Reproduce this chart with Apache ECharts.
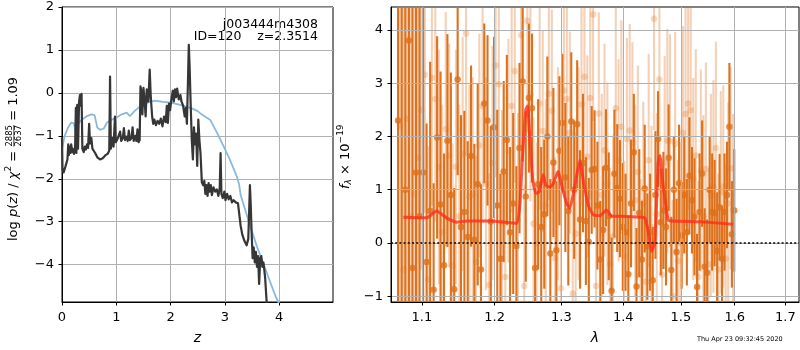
<!DOCTYPE html>
<html>
<head>
<meta charset="utf-8">
<script src="https://cdn.jsdelivr.net/npm/echarts@6/dist/echarts.min.js"></script>
<style>
  html, body { margin: 0; padding: 0; background: #fff; }
  #chart { width: 800px; height: 350px; }
</style>
</head>
<body>
<div id="chart"></div>
<script>
// ---- redshift probability, log p(z) ----
const zGrid = [0.000,0.010,0.030,0.060,0.080,0.100,0.115,0.125,0.140,0.155,0.170,0.185,0.200,0.220,0.240,0.255,0.265,0.280,0.295,0.315,0.330,0.345,0.360,0.375,0.400,0.420,0.440,0.460,0.480,0.500,0.515,0.540,0.560,0.585,0.610,0.650,0.700,0.750,0.800,0.840,0.870,0.885,0.900,0.930,0.950,0.975,0.990,1.020,1.050,1.070,1.090,1.120,1.140,1.160,1.190,1.210,1.230,1.250,1.280,1.300,1.320,1.350,1.370,1.390,1.410,1.430,1.445,1.460,1.480,1.500,1.520,1.540,1.560,1.590,1.615,1.635,1.660,1.680,1.700,1.730,1.760,1.790,1.820,1.850,1.880,1.910,1.930,1.950,1.970,1.990,2.010,2.040,2.060,2.080,2.100,2.120,2.150,2.180,2.200,2.230,2.260,2.280,2.300,2.320,2.335,2.350,2.370,2.390,2.410,2.430,2.450,2.470,2.490,2.510,2.530,2.550,2.575,2.600,2.620,2.640,2.660,2.680,2.700,2.720,2.740,2.760,2.790,2.820,2.850,2.880,2.905,2.920,2.935,2.960,2.990,3.010,3.040,3.070,3.100,3.130,3.160,3.200,3.240,3.270,3.290,3.320,3.360,3.400,3.430,3.445,3.460,3.475,3.490,3.510,3.530,3.550,3.570,3.590,3.610,3.630,3.650,3.670,3.690,3.710,3.740,3.770,3.800];
const logPz = [-1.04,-1.80,-1.85,-1.73,-1.70,-1.55,-1.20,-1.45,-1.25,-1.40,-1.20,-1.38,-1.30,-1.42,-1.35,-0.35,-1.40,-0.28,-1.30,-0.20,-0.05,-0.30,-0.02,-1.30,-1.38,-1.25,-1.32,-1.20,-1.28,-0.72,-1.18,-1.05,-1.30,-1.28,-1.40,-1.50,-1.55,-1.52,-1.45,-1.42,-1.35,0.38,-1.30,-1.05,-1.25,-0.55,-1.15,-1.08,-1.12,-0.90,-1.12,-1.05,-0.82,-1.10,-1.02,-1.12,-0.88,-1.10,-1.05,-0.80,-1.12,-1.00,-1.12,-0.85,-1.15,-1.10,0.15,0.05,-0.50,0.12,-0.15,-0.55,0.08,-0.20,0.54,-0.10,-0.55,-0.72,-0.62,-0.75,-0.65,-0.72,-0.60,-0.78,-0.55,-0.68,-0.30,-0.70,-0.25,-0.40,-0.20,0.05,-0.20,0.08,-0.10,0.10,-0.15,-0.05,-0.20,-0.30,-0.55,-0.35,-0.72,0.30,1.12,0.60,-0.30,-1.10,-1.55,-0.80,-1.20,-0.95,-1.70,-0.62,-1.10,-1.40,-2.08,-2.15,-2.05,-2.35,-2.15,-2.40,-2.10,-2.30,-2.15,-2.38,-2.20,-2.30,-2.25,-2.40,-2.20,-1.40,-2.35,-2.45,-2.30,-2.50,-2.35,-2.48,-2.40,-2.55,-2.50,-2.55,-2.57,-2.60,-3.10,-3.30,-3.45,-3.55,-3.40,-2.80,-2.15,-2.60,-3.20,-3.85,-3.60,-3.95,-3.70,-4.05,-3.80,-4.45,-3.85,-3.80,-4.05,-3.95,-4.30,-4.90,-5.20];

// prior curve
const zPrior = [0.006,0.05,0.11,0.17,0.22,0.25,0.30,0.36,0.46,0.54,0.60,0.65,0.70,0.77,0.83,0.91,1.00,1.10,1.19,1.25,1.34,1.46,1.59,1.71,1.86,2.02,2.14,2.26,2.39,2.49,2.57,2.73,2.85,2.97,3.10,3.21,3.26,3.29,3.37,3.46,3.59,3.77,3.93,4.02];
const logPrior = [-1.27,-1.0,-0.81,-0.69,-0.71,-0.91,-0.71,-0.63,-0.54,-0.5,-0.52,-0.81,-0.86,-0.83,-0.69,-0.63,-0.58,-0.5,-0.46,-0.54,-0.42,-0.29,-0.22,-0.18,-0.21,-0.23,-0.27,-0.31,-0.36,-0.42,-0.5,-0.63,-0.92,-1.23,-1.58,-1.92,-2.12,-2.38,-2.71,-3.08,-3.58,-4.19,-4.73,-4.96];

const zTicks = [0, 1, 2, 3, 4];
const pzTicks = [-4, -3, -2, -1, 0, 1, 2];

// ---- 1D spectrum, first orientation ----
const waveA = [1.0690,1.0737,1.0783,1.0830,1.0876,1.0923,1.0969,1.1016,1.1062,1.1109,1.1155,1.1202,1.1248,1.1295,1.1341,1.1388,1.1434,1.1481,1.1527,1.1574,1.1620,1.1667,1.1713,1.1760,1.1806,1.1853,1.1899,1.1946,1.1992,1.2039,1.2085,1.2132,1.2178,1.2225,1.2271,1.2318,1.2364,1.2411,1.2457,1.2504,1.2550,1.2597,1.2643,1.2690,1.2736,1.2783,1.2829,1.2876,1.2922,1.2969,1.3015,1.3062,1.3108,1.3155,1.3201,1.3248,1.3294,1.3341,1.3387,1.3434,1.3480,1.3527,1.3573,1.3620,1.3666,1.3713,1.3759,1.3806,1.3852,1.3899,1.3945,1.3992,1.4038,1.4085,1.4131,1.4178,1.4224,1.4271,1.4317,1.4364,1.4410,1.4457,1.4503,1.4550,1.4596,1.4643,1.4689,1.4736,1.4782,1.4829,1.4875,1.4922,1.4968,1.5015,1.5061,1.5108,1.5154,1.5201,1.5247,1.5294,1.5340,1.5387,1.5433,1.5480,1.5526,1.5573,1.5619,1.5666,1.5712,1.5759,1.5805,1.5852,1.5898,1.5945,1.5991];
const fluxA = [2.3,-2.0,1.0,3.8,-0.47,1.32,0.5,1.32,-0.36,0.6,-0.88,1.98,0.72,-0.42,1.92,0.9,-0.87,3.07,0.3,0.58,0.11,1.63,0.06,1.1,-0.5,2.62,2.3,0.4,2.17,0.7,-0.3,1.34,1.93,0.2,0.74,-0.06,1.78,3.03,0.87,2.72,2.53,-0.47,1.1,0.3,0.54,2.0,-0.2,1.51,-0.14,1.73,2.25,1.23,0.6,2.28,1.0,2.23,0.44,1.5,0.41,0.02,1.37,1.39,0.7,-0.31,0.24,1.41,0.5,-0.9,1.3,1.03,0.83,0.3,0.2,-0.59,0.74,1.7,-0.82,0.56,-0.31,1.02,-0.07,0.2,-0.7,0.9,1.95,0.39,0.61,0.3,1.6,-0.51,1.0,-0.17,1.12,0.14,0.9,0.2,1.26,0.8,0.49,-0.83,0.58,1.3,-0.45,-0.56,1.0,0.58,0.56,-0.15,0.67,-0.3,0.58,0.9,2.18,0.16,0.61];
const errA = [9,8,7,6,6,5,5,4.5,2.6,2.8,2.0,1.9,2.5,2.1,2.0,2.3,1.9,1.8,2.1,1.9,1.8,1.7,1.8,1.9,1.6,1.5,1.6,1.8,1.7,1.8,1.6,1.7,1.6,1.6,1.7,1.5,1.6,1.5,1.6,1.4,1.4,1.5,1.6,1.5,1.4,1.5,1.4,1.4,1.3,1.4,1.3,1.4,1.4,1.3,1.3,1.2,1.3,1.3,1.2,1.2,1.2,1.1,1.2,1.1,1.2,1.1,1.2,1.0,1.2,1.2,1.1,1.2,1.1,1.1,1.2,1.1,1.1,1.2,1.1,1.2,1.0,1.1,1.0,1.2,0.9,1.0,1.1,1.1,1.0,1.0,1.0,1.0,1.1,1.0,1.1,1.0,1.1,1.0,1.1,1.0,1.1,1.0,1.1,1.0,1.0,1.1,1.0,1.1,1.0,1.0,1.1,1.0,1.2,1.0,1.15];

// ---- 1D spectrum, second orientation ----
const waveB = [1.0713,1.0760,1.0806,1.0853,1.0899,1.0946,1.0992,1.1039,1.1085,1.1132,1.1178,1.1225,1.1271,1.1318,1.1364,1.1411,1.1457,1.1504,1.1550,1.1597,1.1643,1.1690,1.1736,1.1783,1.1829,1.1876,1.1922,1.1969,1.2015,1.2062,1.2108,1.2155,1.2201,1.2248,1.2294,1.2341,1.2387,1.2434,1.2480,1.2527,1.2573,1.2620,1.2666,1.2713,1.2759,1.2806,1.2852,1.2899,1.2945,1.2992,1.3038,1.3085,1.3131,1.3178,1.3224,1.3271,1.3317,1.3364,1.3410,1.3457,1.3503,1.3550,1.3596,1.3643,1.3689,1.3736,1.3782,1.3829,1.3875,1.3922,1.3968,1.4015,1.4061,1.4108,1.4154,1.4201,1.4247,1.4294,1.4340,1.4387,1.4433,1.4480,1.4526,1.4573,1.4619,1.4666,1.4712,1.4759,1.4805,1.4852,1.4898,1.4945,1.4991,1.5038,1.5084,1.5131,1.5177,1.5224,1.5270,1.5317,1.5363,1.5410,1.5456,1.5503,1.5549,1.5596,1.5642,1.5689,1.5735,1.5782,1.5828,1.5875,1.5921,1.5968];
const fluxB = [2.2,-0.5,2.33,0.5,0.92,1.6,2.5,3.16,-0.69,3.1,2.7,1.42,0.2,2.14,1.64,-0.43,1.43,0.5,1.67,3.93,0.87,0.91,-0.36,1.83,2.57,1.11,-0.79,1.5,3.33,2.98,0.39,-0.64,1.73,2.57,3.23,0.44,3.9,-0.81,4.17,2.78,0.36,-0.01,2.62,2.1,0.7,2.8,2.48,-0.29,1.3,-0.85,2.86,2.7,2.07,-0.95,0.17,1.3,2.6,3.12,1.62,2.72,4.29,-0.81,2.43,0.9,1.74,1.11,-0.39,0.12,2.53,1.55,2.18,-0.26,1.95,2.11,1.87,0.8,1.33,-0.6,0.75,-0.73,1.55,0.3,4.21,0.54,3.07,-0.6,1.51,1.92,1.92,-1.0,1.86,-0.34,0.0,2.07,2.42,2.62,2.49,1.2,1.64,-0.64,1.36,0.5,1.39,-0.4,0.9,1.06,1.78,-0.5,0.95,1.06,-0.3,0.74,1.4,0.62];
const errB = [7,6,5,5,4.5,3.5,3,2.6,2.5,2.4,2.3,2.2,2.4,2.2,2.1,2.3,2.2,2.1,2.2,2.3,2.1,2.2,2.0,2.1,2.2,2.0,2.1,2.2,2.1,2.0,2.1,2.0,2.1,2.0,2.1,2.0,2.1,1.9,2.1,2.0,2.0,1.9,2.0,1.9,2.0,2.0,1.9,1.9,2.0,1.8,1.9,2.0,1.9,1.8,1.9,2.0,1.9,2.0,1.9,1.9,2.0,1.8,1.9,1.9,2.0,1.9,1.8,1.9,2.0,1.9,2.0,1.8,1.9,2.0,1.9,1.8,2.0,1.8,1.9,1.8,2.0,1.9,2.1,1.9,2.0,1.8,2.0,2.1,2.0,1.8,2.1,1.9,1.9,2.0,2.1,2.0,2.1,1.9,2.0,1.8,1.9,1.9,2.0,1.8,1.9,2.0,2.0,1.8,1.9,1.9,1.8,1.9,1.9,1.8];

// best-fit template
const modelWave = [1.0757,1.1062,1.1195,1.1330,1.1467,1.1605,1.1933,1.2320,1.2369,1.2409,1.2458,1.2484,1.2518,1.2559,1.2608,1.2659,1.2720,1.2761,1.2822,1.2873,1.2950,1.3003,1.3081,1.3133,1.3212,1.3291,1.3344,1.3424,1.3505,1.3614,1.3724,1.3806,1.3944,1.4282,1.4368,1.4425,1.4484,1.4541,1.4598,1.4628,1.4685,1.4774,1.4863,1.5470,1.5970];
const modelFlux = [0.48,0.47,0.6,0.47,0.39,0.41,0.41,0.37,0.71,1.64,2.51,2.57,1.96,1.21,0.93,0.96,1.28,1.08,1.05,1.11,1.34,1.09,0.74,0.65,1.09,1.55,1.18,0.71,0.53,0.51,0.62,0.5,0.5,0.48,0.47,0.22,-0.16,0.03,1.52,1.64,1.08,0.43,0.41,0.39,0.35];

const waveTicks = [1.1, 1.2, 1.3, 1.4, 1.5, 1.6, 1.7];
const fluxTicks = [-1, 0, 1, 2, 3, 4];

// ---- styling ----
const FONT = '"DejaVu Sans", "Liberation Sans", sans-serif';
const DARK = '#dd711c';
const LIGHT = 'rgba(223,115,32,0.33)';
const GRIDLINE = '#b0b0b0';

const minus = v => (v < 0 ? '\u2212' + Math.abs(v) : String(v));
const zip3 = (a, b, c) => a.map((v, i) => [v, b[i], c[i]]);
const zip2 = (a, b) => a.map((v, i) => [v, b[i]]);

function axisStyle(extra) {
  return Object.assign({
    axisLine: { show: true, onZero: false, lineStyle: { color: '#000', width: 1 } },
    axisTick: { show: true, inside: false, length: 3.5, lineStyle: { color: '#000', width: 1 } },
    splitLine: { show: true, lineStyle: { color: GRIDLINE, width: 1 } },
    axisLabel: { color: '#000', fontSize: 13, fontFamily: FONT },
    nameTextStyle: { color: '#000', fontSize: 14, fontFamily: FONT, fontStyle: 'italic' }
  }, extra);
}
function withTicks(ax, ticks, fmt, margin) {
  ax.axisTick.customValues = ticks;
  ax.axisLabel.customValues = ticks;
  ax.axisLabel.formatter = fmt;
  ax.axisLabel.margin = margin;
  return ax;
}

// error bars drawn through the axes' own coordinate mapping
function errorBars(color) {
  return function (params, api) {
    const x = api.value(0), y = api.value(1), e = api.value(2);
    const lo = api.coord([x, y - e]);
    const hi = api.coord([x, y + e]);
    return {
      type: 'line',
      shape: { x1: lo[0], y1: lo[1], x2: hi[0], y2: hi[1] },
      style: { stroke: color, lineWidth: 2.1 }
    };
  };
}

// text measuring for the composed axis titles
const mctx = document.createElement('canvas').getContext('2d');
function textWidth(t, size, italic) {
  mctx.font = (italic ? 'italic ' : '') + size + 'px "DejaVu Sans"';
  return mctx.measureText(t).width;
}
function txt(t, x, y, size, italic, align) {
  return {
    type: 'text', x: x, y: y,
    style: {
      text: t, fill: '#000', fontSize: size, fontFamily: FONT,
      fontStyle: italic ? 'italic' : 'normal',
      align: align || 'left', verticalAlign: 'middle'
    }
  };
}
// rotated title built from pieces laid out along the reading direction
function rotatedTitle(x, y, pieces) {
  const children = [];
  let cur = 0;
  pieces.forEach(p => {
    if (p.frac) {
      const w = Math.max(textWidth(p.num, p.size), textWidth(p.den, p.size));
      children.push(txt(p.num, cur + w / 2, p.numY, p.size, false, 'center'));
      children.push(txt(p.den, cur + w / 2, p.denY, p.size, false, 'center'));
      children.push({ type: 'line', shape: { x1: cur, y1: p.barY, x2: cur + w, y2: p.barY },
        style: { stroke: '#000', lineWidth: 0.7 } });
      cur += w;
    } else {
      children.push(txt(p.t, cur, p.dy || 0, p.size, p.it));
      cur += textWidth(p.t, p.size, p.it);
    }
  });
  return { type: 'group', x: x, y: y, rotation: Math.PI / 2, children: children };
}

const chart = echarts.init(document.getElementById('chart'), null, { renderer: 'canvas' });

const option = {
  animation: false,
  backgroundColor: '#fff',
  grid: [
    { left: 62, top: 7, width: 271, height: 297, show: true, borderColor: '#000', borderWidth: 1, containLabel: false },
    { left: 391, top: 7, width: 408, height: 297, show: true, borderColor: '#000', borderWidth: 1, containLabel: false }
  ],
  xAxis: [
    withTicks(axisStyle({ type: 'value', gridIndex: 0, min: 0, max: 4.99,
      name: 'z', nameLocation: 'middle', nameGap: 29 }), zTicks, v => String(v), 9),
    withTicks(axisStyle({ type: 'log', logBase: 10, gridIndex: 1, min: 1.06, max: 1.728, z: 3,
      name: '\u03bb', nameLocation: 'middle', nameGap: 29 }), waveTicks, v => Number(v).toFixed(1), 9)
  ],
  yAxis: [
    withTicks(axisStyle({ type: 'value', gridIndex: 0, min: -4.87, max: 2 }), pzTicks, minus, 8),
    withTicks(axisStyle({ type: 'value', gridIndex: 1, min: -1.11, max: 4.43, z: 3 }), fluxTicks, minus, 8)
  ],
  series: [
    {
      type: 'line', name: 'prior', xAxisIndex: 0, yAxisIndex: 0,
      data: zip2(zPrior, logPrior), showSymbol: false, clip: true, z: 2,
      lineStyle: { color: '#8bb9dd', width: 1.8 }
    },
    {
      type: 'line', name: 'log p(z)', xAxisIndex: 0, yAxisIndex: 0,
      data: zip2(zGrid, logPz), showSymbol: false, clip: true, z: 3,
      lineStyle: { color: '#363636', width: 2.2, join: 'round' }
    },
    {
      type: 'custom', name: 'spec B err', xAxisIndex: 1, yAxisIndex: 1, clip: true, z: 1,
      renderItem: errorBars(LIGHT), encode: { x: 0, y: 1 },
      data: zip3(waveB, fluxB, errB)
    },
    {
      type: 'scatter', name: 'spec B', xAxisIndex: 1, yAxisIndex: 1, clip: true, z: 1,
      symbolSize: 6.5, itemStyle: { color: LIGHT },
      data: zip2(waveB, fluxB)
    },
    {
      type: 'custom', name: 'spec A err', xAxisIndex: 1, yAxisIndex: 1, clip: true, z: 1,
      renderItem: errorBars(DARK), encode: { x: 0, y: 1 },
      data: zip3(waveA, fluxA, errA)
    },
    {
      type: 'scatter', name: 'spec A', xAxisIndex: 1, yAxisIndex: 1, clip: true, z: 1,
      symbolSize: 6.5, itemStyle: { color: DARK },
      data: zip2(waveA, fluxA)
    },
    {
      type: 'line', name: 'model', xAxisIndex: 1, yAxisIndex: 1, clip: true, z: 4,
      data: zip2(modelWave, modelFlux), showSymbol: false, smooth: 0.15,
      lineStyle: { color: '#ff2a1a', width: 3, opacity: 0.78 }
    },
    {
      type: 'line', name: 'zero', xAxisIndex: 1, yAxisIndex: 1, data: [], z: 5,
      markLine: {
        silent: true, symbol: 'none', label: { show: false }, animation: false,
        lineStyle: { color: '#000', type: [2, 2.2], width: 1.5 },
        data: [{ yAxis: 0 }]
      }
    }
  ],
  graphic: [
    txt('j003444m4308', 318, 24.5, 12.5, false, 'right'),
    txt('ID=120    z=2.3514', 318, 36.5, 12.5, false, 'right'),
    rotatedTitle(14, 241, [
      { t: 'log ', size: 13 },
      { t: 'p', size: 13, it: true },
      { t: '(', size: 13 },
      { t: 'z', size: 13, it: true },
      { t: ') / ', size: 13 },
      { t: '\u03c7', size: 13, it: true },
      { t: '2', size: 9, dy: -5 },
      { t: ' = ', size: 13 },
      { frac: true, num: '2885', den: '2637', size: 8.5, numY: -4.5, denY: 4.5, barY: -0.2 },
      { t: ' = 1.09', size: 13 }
    ]),
    rotatedTitle(346, 189, [
      { t: 'f', size: 13, it: true },
      { t: '\u03bb', size: 9, it: true, dy: 3 },
      { t: ' \u00d7 10', size: 13 },
      { t: '\u221219', size: 9, dy: -5 }
    ]),
    txt('Thu Apr 23 09:32:45 2020', 697, 339.5, 6.5, false, 'left')
  ]
};

chart.setOption(option);
</script>
</body>
</html>
